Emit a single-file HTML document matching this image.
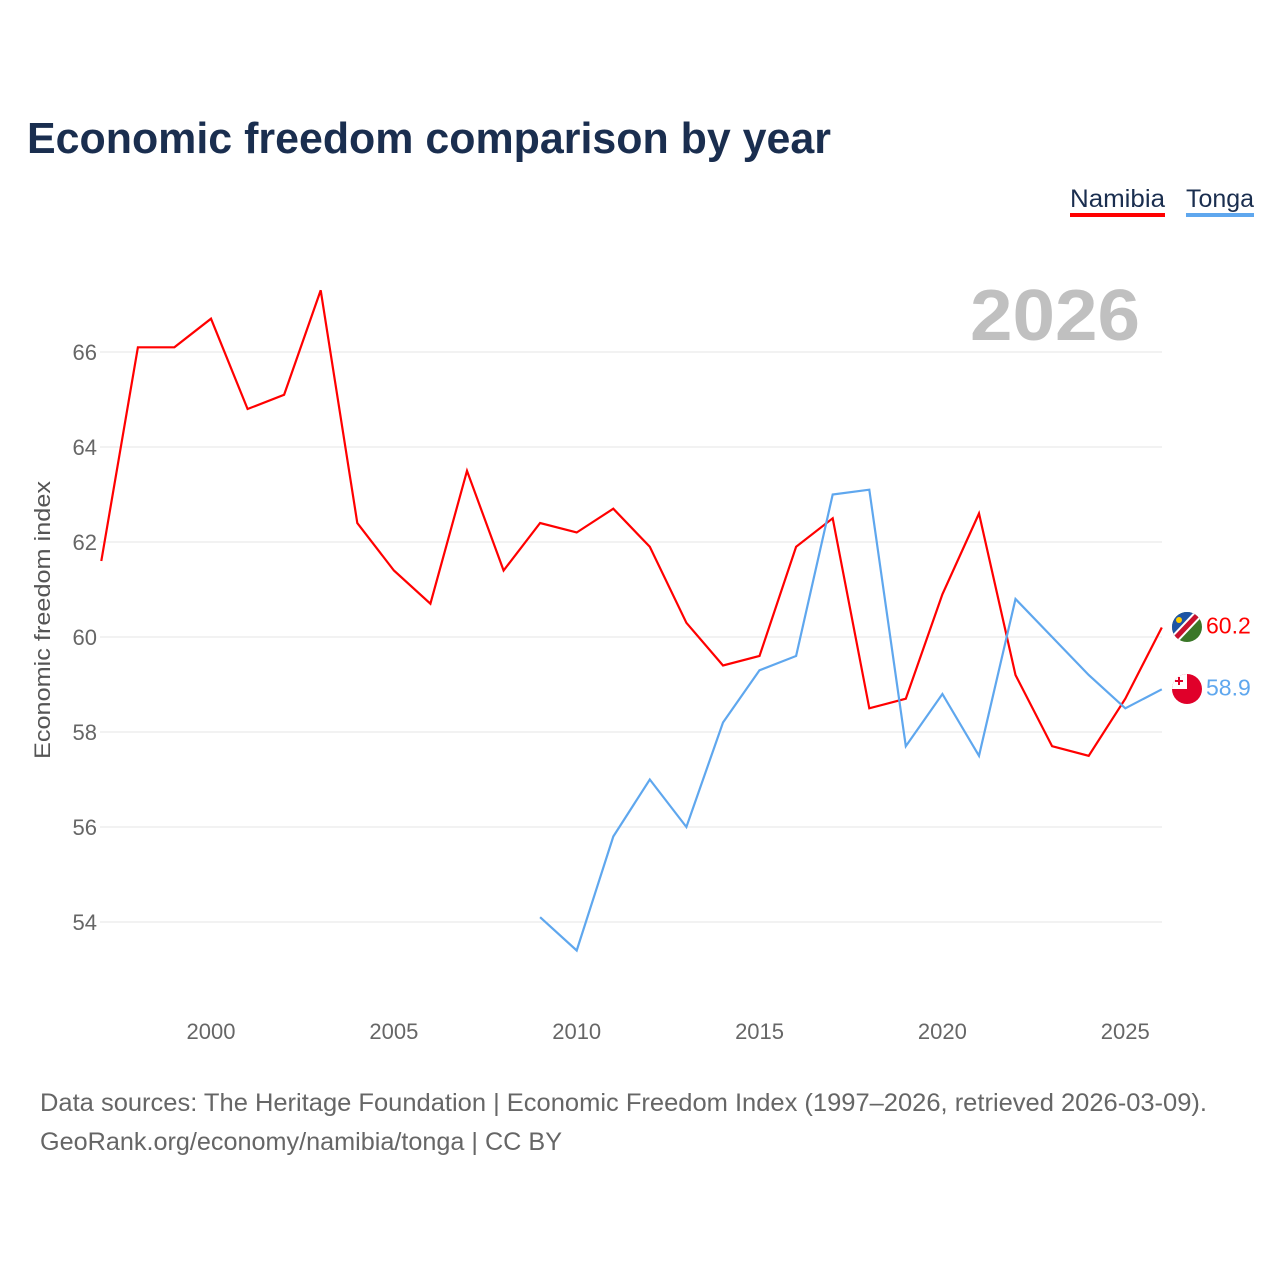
<!DOCTYPE html>
<html><head><meta charset="utf-8"><style>
body{margin:0;background:#fff;font-family:"Liberation Sans",sans-serif}
</style></head><body>
<svg width="1280" height="1280" viewBox="0 0 1280 1280">
<defs>
<clipPath id="cn"><circle cx="1187" cy="627" r="15"/></clipPath>
<clipPath id="ct"><circle cx="1187" cy="689" r="15"/></clipPath>
</defs>
<text x="27" y="153" font-size="44" font-weight="bold" fill="#1a2e4f" textLength="804" lengthAdjust="spacingAndGlyphs">Economic freedom comparison by year</text>
<g>
<text x="1070" y="207" font-size="25" fill="#1a2e4f" textLength="95" lengthAdjust="spacingAndGlyphs">Namibia</text>
<rect x="1070" y="213" width="95" height="4" fill="#f00"/>
<text x="1186" y="207" font-size="25" fill="#1a2e4f" textLength="68" lengthAdjust="spacingAndGlyphs">Tonga</text>
<rect x="1186" y="213" width="68" height="4" fill="#5fa7ee"/>
</g>
<text x="1140" y="340" font-size="72" font-weight="bold" fill="#c0c0c0" text-anchor="end" textLength="170" lengthAdjust="spacingAndGlyphs">2026</text>
<g id="grid"></g><g id="xt"></g><g id="lines"></g>
<g clip-path="url(#cn)">
<rect x="1170" y="610" width="34" height="34" fill="#3a7728"/>
<polygon points="1170,610 1204,610 1170,644" fill="#1d55a5"/>
<line x1="1204" y1="608" x2="1168" y2="646" stroke="#fff" stroke-width="9"/>
<line x1="1204" y1="608" x2="1168" y2="646" stroke="#c8102e" stroke-width="5"/>
<circle cx="1179" cy="620" r="3" fill="#ffce00"/>
</g>
<g clip-path="url(#ct)">
<rect x="1170" y="672" width="34" height="34" fill="#e0002a"/>
<rect x="1170" y="672" width="17" height="17" fill="#fff"/>
<rect x="1178" y="677" width="2" height="8" fill="#e0002a"/><rect x="1175" y="680" width="8" height="2" fill="#e0002a"/>
</g>
<text transform="translate(50,620) rotate(-90)" font-size="22" fill="#555" text-anchor="middle" textLength="278" lengthAdjust="spacingAndGlyphs">Economic freedom index</text>
<text x="40" y="1111" font-size="25" fill="#666" textLength="1167" lengthAdjust="spacingAndGlyphs">Data sources: The Heritage Foundation | Economic Freedom Index (1997–2026, retrieved 2026-03-09).</text>
<text x="40" y="1150" font-size="25" fill="#666" textLength="522" lengthAdjust="spacingAndGlyphs">GeoRank.org/economy/namibia/tonga | CC BY</text>
</svg>
<script>
const years=[1997,1998,1999,2000,2001,2002,2003,2004,2005,2006,2007,2008,2009,2010,2011,2012,2013,2014,2015,2016,2017,2018,2019,2020,2021,2022,2023,2024,2025,2026];
const namibia=[61.6,66.1,66.1,66.7,64.8,65.1,67.3,62.4,61.4,60.7,63.5,61.4,62.4,62.2,62.7,61.9,60.3,59.4,59.6,61.9,62.5,58.5,58.7,60.9,62.6,59.2,57.7,57.5,58.7,60.2];
const tonga=[null,null,null,null,null,null,null,null,null,null,null,null,54.1,53.4,55.8,57.0,56.0,58.2,59.3,59.6,63.0,63.1,57.7,58.8,57.5,60.8,60.0,59.2,58.5,58.9];
const yTicks=[54,56,58,60,62,64,66];
const xTicks=[2000,2005,2010,2015,2020,2025];
const NS="http://www.w3.org/2000/svg";
const X=y=>211+(y-2000)*36.57, Y=v=>352+(66-v)*47.5;
function mk(t,a,p){const e=document.createElementNS(NS,t);for(const k in a)e.setAttribute(k,a[k]);p.appendChild(e);return e;}
const g=document.getElementById('grid');
yTicks.forEach(v=>{
 const l=mk('line',{x1:100,x2:1162,y1:Y(v),y2:Y(v),stroke:'#e6e6e6'},g);
 
 
 const t=mk('text',{x:97,y:Y(v)+8,'font-size':22,fill:'#666','text-anchor':'end'},g);t.textContent=v;
 
 
});
const xt=document.getElementById('xt');
xTicks.forEach(v=>{const t=mk('text',{x:X(v),y:1039,'font-size':22,fill:'#666','text-anchor':'middle'},xt);t.textContent=v;
 
 });
const L=document.getElementById('lines');
function series(vals,col,name,dy){
 let d='';vals.forEach((v,i)=>{if(v==null)return;d+=(d?'L':'M')+X(years[i]).toFixed(1)+','+Y(v).toFixed(1);});
 const p=mk('path',{d:d,fill:'none',stroke:col,'stroke-width':2.2},L);
 
 
 const last=vals[vals.length-1];
 const t=mk('text',{x:1206,y:Y(last)+8+dy,'font-size':23,fill:col},L);t.textContent=last.toFixed(1);
 
 
}
series(namibia,'#ff0000','namibia',-2);
series(tonga,'#5fa7ee','tonga',-2);
</script>
</body></html>
